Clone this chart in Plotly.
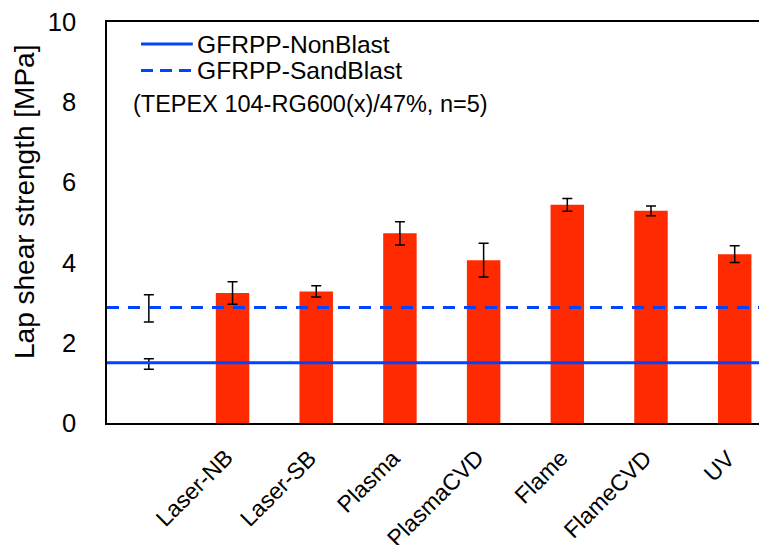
import plotly.graph_objects as go

categories = ["Laser-NB", "Laser-SB", "Plasma", "PlasmaCVD", "Flame", "FlameCVD", "UV"]
strength = [3.24, 3.28, 4.73, 4.06, 5.44, 5.29, 4.21]
strength_err = [0.28, 0.14, 0.29, 0.42, 0.16, 0.12, 0.21]

baseline_names = ["GFRPP-NonBlast", "GFRPP-SandBlast"]
baseline_mean = [1.50, 2.88]
baseline_center = [1.47, 2.86]
baseline_err = [0.13, 0.34]
baseline_dash = ["solid", "12px,9px"]

note_text = "(TEPEX 104-RG600(x)/47%, n=5)"
y_title = "Lap shear strength [MPa]"
y_ticks = [0, 2, 4, 6, 8, 10]

FONT = "Liberation Sans, Arial, sans-serif"
RED = "#ff2a00"
BLUE = "#0044ff"

xpos = list(range(1, len(categories) + 1))

fig = go.Figure()
fig.add_trace(go.Bar(
    x=xpos, y=strength, width=0.4,
    marker=dict(color=RED, line=dict(width=0)),
    error_y=dict(type="data", array=strength_err, color="black", thickness=1.5, width=5),
    showlegend=False,
))

for i in range(len(baseline_mean)):
    fig.add_hline(y=baseline_mean[i], line=dict(color=BLUE, width=3, dash=baseline_dash[i]))

fig.add_trace(go.Scatter(
    x=[0] * len(baseline_center), y=baseline_center, mode="markers",
    marker=dict(size=1, color="rgba(0,0,0,0)"),
    error_y=dict(type="data", array=baseline_err, color="black", thickness=1.5, width=5),
    showlegend=False,
))

# category labels
for xv, lab in zip(xpos, categories):
    fig.add_annotation(x=xv, y=0, xref="x", yref="paper", text=lab, showarrow=False,
                       textangle=-45, xanchor="right", yanchor="top", xshift=8, yshift=-19,
                       font=dict(family=FONT, size=23, color="black"))

# y-axis title
fig.add_annotation(x=-0.125, y=0.55, xref="paper", yref="paper", text=y_title, showarrow=False,
                   textangle=-90, xanchor="center", yanchor="middle",
                   font=dict(family=FONT, size=28, color="black"))

# manual legend
leg_y = [0.945, 0.879]
for i, name in enumerate(baseline_names):
    fig.add_shape(type="line", xref="paper", yref="paper", x0=0.0515, x1=0.130, y0=leg_y[i], y1=leg_y[i],
                  line=dict(color=BLUE, width=3, dash="12px,7px" if i == 1 else "solid"))
    fig.add_annotation(x=0.134, y=leg_y[i], xref="paper", yref="paper", text=name, showarrow=False,
                       xanchor="left", yanchor="middle", font=dict(family=FONT, size=24.6, color="black"))
fig.add_annotation(x=0.036, y=0.795, xref="paper", yref="paper", text=note_text, showarrow=False,
                   xanchor="left", yanchor="middle", font=dict(family=FONT, size=23.5, color="black"))

fig.update_layout(
    width=759, height=537,
    margin=dict(l=99, r=0, t=14, b=122),
    paper_bgcolor="white", plot_bgcolor="white",
    font=dict(family=FONT, size=22, color="black"),
    showlegend=False,
    xaxis=dict(range=[-0.5, 7.386], showticklabels=False, showgrid=False, zeroline=False,
               showline=True, linecolor="black", linewidth=1.8, mirror=True, ticks="", automargin=False),
    yaxis=dict(range=[0, 10], tickvals=y_ticks, showgrid=False, zeroline=False,
               showline=True, linecolor="black", linewidth=1.5, ticks="", automargin=False,
               ticklabelstandoff=24, ticklabeloverflow="allow", tickfont=dict(family=FONT, size=25.5)),
)

fig.write_html("out.html")
